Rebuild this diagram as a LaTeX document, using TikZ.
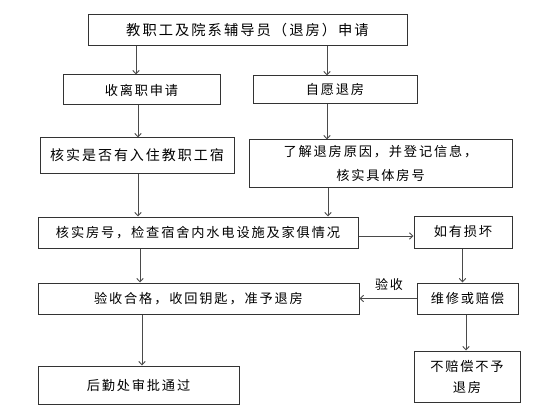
\documentclass[tikz,border=0pt]{standalone}
\usepackage{fontspec}
\newfontfamily\cjk[LetterSpace=14]{Noto Sans CJK SC}
\usetikzlibrary{arrows.meta}
\definecolor{boxline}{HTML}{333333}
\definecolor{arrline}{HTML}{4A4A4A}
\begin{document}
\begin{tikzpicture}[x=1pt,y=-1pt,
  box/.style={draw=boxline, line width=1pt, inner sep=0pt, align=center,
    font=\cjk\fontsize{13.2}{24}\selectfont, text=black},
  arr/.style={draw=arrline, line width=0.9pt, -{Straight Barb[length=3.5pt,width=6.5pt]}},
  lbl/.style={inner sep=0pt, font=\cjk\fontsize{13}{16}\selectfont, text=black}]
\useasboundingbox (0,0) rectangle (555,420);
\fill[white] (0,0) rectangle (555,420);

\node[box, minimum width=319pt, minimum height=31pt, font=\cjk\fontsize{14.3}{24}\selectfont] (n1) at (247.5,30.5) {教职工及院系辅导员（退房）申请};
\node[box, minimum width=157pt, minimum height=30pt] (n2) at (141.5,90) {收离职申请};
\node[box, minimum width=164pt, minimum height=28pt] (n3) at (335,90) {自愿退房};
\node[box, minimum width=194pt, minimum height=35pt, font=\cjk\fontsize{14}{24}\selectfont] (n4) at (137,155.5) {核实是否有入住教职工宿};
\node[box, minimum width=263pt, minimum height=47pt] (n5) at (380.5,163.5) {了解退房原因，并登记信息，\\核实具体房号};
\node[box, minimum width=320pt, minimum height=31pt] (n6) at (198,232.5) {核实房号，检查宿舍内水电设施及家俱情况};
\node[box, minimum width=98pt, minimum height=32pt] (n7) at (463,232) {如有损坏};
\node[box, minimum width=321pt, minimum height=31pt] (n8) at (198.5,298.5) {验收合格，收回钥匙，准予退房};
\node[box, minimum width=101pt, minimum height=31pt] (n9) at (467.5,298.5) {维修或赔偿};
\node[box, minimum width=201pt, minimum height=38pt] (n10) at (138.5,385) {后勤处审批通过};
\node[box, minimum width=106pt, minimum height=51pt, font=\cjk\fontsize{13.2}{21}\selectfont] (n11) at (467,376.5) {不赔偿不予\\退房};
\node[lbl] (lab) at (389,285) {验收};

\coordinate (a1) at (136,0);
\coordinate (a2) at (138,0);
\coordinate (a3) at (140,0);
\coordinate (a4) at (142,0);
\coordinate (b1) at (327,0);
\coordinate (b2) at (328,0);
\coordinate (c1) at (462.5,0);
\coordinate (c2) at (466,0);
\coordinate (h1) at (0,236);

\draw[arr] (n1.south -| a1) -- (n2.north -| a1);
\draw[arr] (n1.south -| b1) -- (n3.north -| b1);
\draw[arr] (n2.south -| a2) -- (n4.north -| a2);
\draw[arr] (n3.south -| b1) -- (n5.north -| b1);
\draw[arr] (n4.south -| a2) -- (n6.north -| a2);
\draw[arr] (n5.south -| b2) -- (n6.north -| b2);
\draw[arr] (n6.east |- h1) -- (n7.west |- h1);
\draw[arr] (n6.south -| a3) -- (n8.north -| a3);
\draw[arr] (n7.south -| c1) -- (n9.north -| c1);
\draw[arr] (n9.west) -- (n8.east);
\draw[arr] (n8.south -| a4) -- (n10.north -| a4);
\draw[arr] (n9.south -| c2) -- (n11.north -| c2);
\end{tikzpicture}
\end{document}
